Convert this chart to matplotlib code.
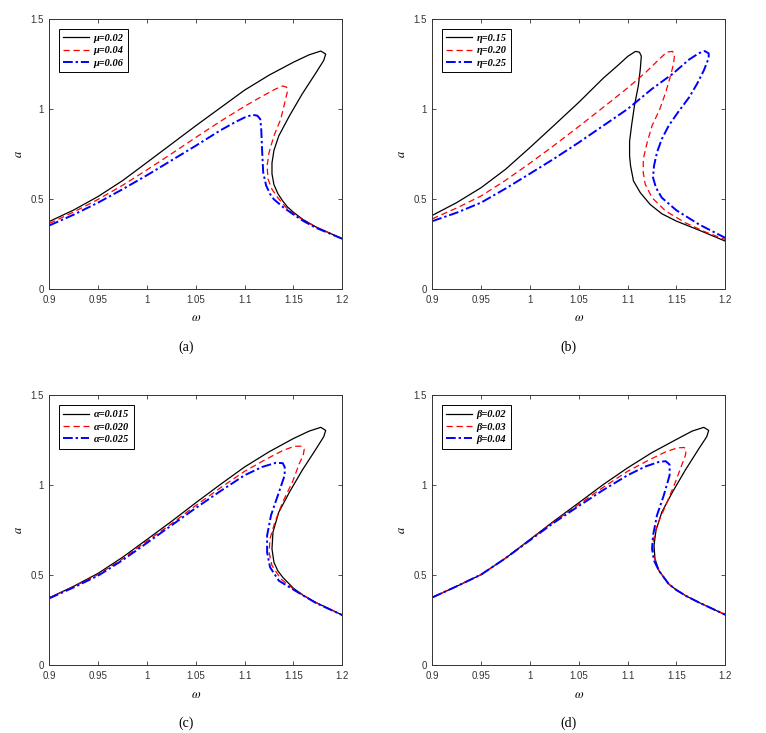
import matplotlib
matplotlib.use("Agg")
import matplotlib.pyplot as plt

# ---- data: (omega, a) points along each response curve ----
# (a) damping mu
w_mu02 = [0.9, 0.925, 0.950, 0.975, 1.000, 1.025, 1.050, 1.075, 1.100, 1.125, 1.150, 1.166, 1.178, 1.183, 1.181,
          1.173, 1.159, 1.146, 1.135, 1.130, 1.128, 1.128, 1.130, 1.134, 1.139, 1.144, 1.150, 1.160, 1.173, 1.200]
a_mu02 = [0.375, 0.439, 0.514, 0.602, 0.703, 0.805, 0.907, 1.006, 1.105, 1.188, 1.260, 1.301, 1.322, 1.305, 1.270,
          1.201, 1.084, 0.963, 0.851, 0.770, 0.700, 0.640, 0.580, 0.530, 0.489, 0.455, 0.426, 0.385, 0.345, 0.279]
w_mu04 = [0.9, 0.925, 0.950, 0.975, 1.000, 1.025, 1.050, 1.075, 1.100, 1.118, 1.132, 1.139, 1.143, 1.144, 1.142,
          1.137, 1.130, 1.125, 1.123, 1.124, 1.128, 1.134, 1.142, 1.150, 1.160, 1.173, 1.200]
a_mu04 = [0.364, 0.428, 0.498, 0.576, 0.662, 0.751, 0.842, 0.931, 1.015, 1.071, 1.112, 1.128, 1.121, 1.102, 1.056,
          0.944, 0.851, 0.758, 0.684, 0.610, 0.554, 0.507, 0.455, 0.418, 0.383, 0.344, 0.279]
w_mu06 = [0.9, 0.925, 0.950, 0.975, 1.000, 1.025, 1.050, 1.075, 1.091, 1.100, 1.108, 1.113, 1.116, 1.117, 1.118,
          1.119, 1.122, 1.126, 1.130, 1.140, 1.150, 1.160, 1.173, 1.200]
a_mu06 = [0.353, 0.413, 0.480, 0.554, 0.632, 0.714, 0.796, 0.881, 0.929, 0.953, 0.968, 0.963, 0.944, 0.888, 0.758,
          0.647, 0.575, 0.528, 0.498, 0.452, 0.414, 0.378, 0.340, 0.279]

# (b) eta
w_eta15 = [0.9, 0.925, 0.950, 0.975, 1.000, 1.025, 1.050, 1.075, 1.091, 1.100, 1.108, 1.112, 1.114, 1.113, 1.111,
           1.107, 1.104, 1.102, 1.102, 1.103, 1.106, 1.113, 1.123, 1.135, 1.150, 1.173, 1.200]
a_eta15 = [0.409, 0.480, 0.563, 0.665, 0.786, 0.911, 1.037, 1.171, 1.247, 1.292, 1.320, 1.316, 1.294, 1.223, 1.130,
           1.019, 0.907, 0.820, 0.740, 0.684, 0.600, 0.535, 0.470, 0.418, 0.377, 0.327, 0.266]
w_eta20 = [0.9, 0.925, 0.950, 0.975, 1.000, 1.025, 1.050, 1.075, 1.100, 1.118, 1.132, 1.140, 1.146, 1.148, 1.147,
           1.144, 1.139, 1.133, 1.125, 1.120, 1.116, 1.116, 1.118, 1.125, 1.139, 1.159, 1.180, 1.200]
a_eta20 = [0.390, 0.450, 0.517, 0.604, 0.699, 0.799, 0.903, 1.009, 1.117, 1.201, 1.275, 1.316, 1.320, 1.301, 1.251,
           1.186, 1.093, 1.000, 0.907, 0.814, 0.721, 0.647, 0.582, 0.507, 0.433, 0.368, 0.316, 0.275]
w_eta25 = [0.9, 0.925, 0.950, 0.975, 1.000, 1.025, 1.050, 1.075, 1.100, 1.125, 1.146, 1.163, 1.173, 1.179, 1.183,
           1.183, 1.178, 1.171, 1.163, 1.152, 1.142, 1.135, 1.130, 1.127, 1.126, 1.129, 1.135, 1.150, 1.173, 1.200]
a_eta25 = [0.377, 0.424, 0.480, 0.558, 0.641, 0.725, 0.814, 0.907, 1.000, 1.112, 1.195, 1.275, 1.310, 1.322, 1.309,
           1.283, 1.214, 1.139, 1.065, 0.985, 0.907, 0.833, 0.758, 0.684, 0.619, 0.563, 0.507, 0.437, 0.359, 0.284]

# (c) alpha
w_al015 = [0.9, 0.925, 0.950, 0.975, 1.000, 1.025, 1.050, 1.075, 1.100, 1.125, 1.150, 1.166, 1.178, 1.183, 1.181,
           1.173, 1.159, 1.146, 1.135, 1.129, 1.128, 1.130, 1.134, 1.139, 1.150, 1.160, 1.173, 1.200]
a_al015 = [0.375, 0.439, 0.511, 0.600, 0.699, 0.799, 0.903, 1.004, 1.102, 1.186, 1.260, 1.301, 1.322, 1.305, 1.270,
           1.201, 1.084, 0.963, 0.851, 0.740, 0.647, 0.572, 0.525, 0.489, 0.428, 0.388, 0.349, 0.279]
w_al020 = [0.9, 0.925, 0.950, 0.975, 1.000, 1.025, 1.050, 1.075, 1.100, 1.122, 1.139, 1.151, 1.158, 1.161, 1.160,
           1.156, 1.149, 1.139, 1.131, 1.126, 1.125, 1.128, 1.137, 1.150, 1.173, 1.200]
a_al020 = [0.375, 0.437, 0.504, 0.591, 0.690, 0.786, 0.888, 0.985, 1.078, 1.145, 1.193, 1.217, 1.217, 1.201, 1.167,
           1.121, 1.019, 0.907, 0.796, 0.703, 0.628, 0.554, 0.480, 0.424, 0.348, 0.279]
w_al025 = [0.9, 0.925, 0.950, 0.975, 1.000, 1.025, 1.050, 1.075, 1.100, 1.118, 1.132, 1.139, 1.141, 1.141, 1.134,
           1.127, 1.123, 1.123, 1.126, 1.135, 1.150, 1.173, 1.200]
a_al025 = [0.372, 0.433, 0.498, 0.584, 0.680, 0.777, 0.874, 0.967, 1.056, 1.102, 1.125, 1.123, 1.102, 1.056, 0.944,
           0.833, 0.721, 0.628, 0.545, 0.470, 0.420, 0.346, 0.279]

# (d) beta
w_b02 = [0.9, 0.925, 0.950, 0.975, 1.000, 1.025, 1.050, 1.075, 1.100, 1.125, 1.150, 1.166, 1.178, 1.183, 1.181,
         1.173, 1.159, 1.146, 1.135, 1.129, 1.127, 1.128, 1.132, 1.142, 1.150, 1.160, 1.173, 1.200]
a_b02 = [0.377, 0.439, 0.504, 0.595, 0.699, 0.803, 0.903, 1.004, 1.097, 1.182, 1.255, 1.301, 1.322, 1.305, 1.270,
         1.204, 1.084, 0.963, 0.851, 0.749, 0.665, 0.591, 0.526, 0.452, 0.418, 0.385, 0.349, 0.281]
w_b03 = [0.9, 0.925, 0.950, 0.975, 1.000, 1.025, 1.050, 1.075, 1.100, 1.122, 1.139, 1.151, 1.158, 1.160, 1.159,
         1.156, 1.149, 1.139, 1.130, 1.126, 1.126, 1.128, 1.132, 1.142, 1.150, 1.160, 1.173, 1.200]
a_b03 = [0.377, 0.439, 0.504, 0.595, 0.697, 0.799, 0.894, 0.989, 1.078, 1.141, 1.186, 1.208, 1.210, 1.195, 1.164,
         1.121, 1.019, 0.888, 0.777, 0.684, 0.619, 0.591, 0.526, 0.452, 0.418, 0.385, 0.349, 0.281]
w_b04 = [0.9, 0.925, 0.950, 0.975, 1.000, 1.025, 1.050, 1.075, 1.100, 1.118, 1.132, 1.139, 1.143, 1.143, 1.137,
         1.130, 1.126, 1.125, 1.127, 1.132, 1.142, 1.150, 1.160, 1.173, 1.200]
a_b04 = [0.377, 0.439, 0.504, 0.595, 0.695, 0.794, 0.885, 0.974, 1.056, 1.104, 1.130, 1.134, 1.115, 1.056, 0.944,
         0.833, 0.721, 0.647, 0.582, 0.526, 0.452, 0.418, 0.385, 0.349, 0.281]

panels = [
    ("(a)", [(w_mu02, a_mu02, "μ=0.02"), (w_mu04, a_mu04, "μ=0.04"), (w_mu06, a_mu06, "μ=0.06")]),
    ("(b)", [(w_eta15, a_eta15, "η=0.15"), (w_eta20, a_eta20, "η=0.20"), (w_eta25, a_eta25, "η=0.25")]),
    ("(c)", [(w_al015, a_al015, "α=0.015"), (w_al020, a_al020, "α=0.020"), (w_al025, a_al025, "α=0.025")]),
    ("(d)", [(w_b02, a_b02, "β=0.02"), (w_b03, a_b03, "β=0.03"), (w_b04, a_b04, "β=0.04")]),
]

xticks = [0.9, 0.95, 1.0, 1.05, 1.1, 1.15, 1.2]
xticklabels = ["0.9", "0.95", "1", "1.05", "1.1", "1.15", "1.2"]
yticks = [0, 0.5, 1, 1.5]
yticklabels = ["0", "0.5", "1", "1.5"]

styles = [dict(color="black", ls="-", lw=0.9),
          dict(color="red", ls=(0, (5, 3)), lw=0.9),
          dict(color="blue", ls=(0, (5, 1.5, 1.2, 1.5)), lw=1.4)]

plt.rcParams["mathtext.fontset"] = "stix"

fig = plt.figure(figsize=(7.66, 7.33), dpi=100)
W, H = 766, 733
lefts = [49.3, 432.3]
tops = [19, 395.3]
aw, ah = 293, 270

for k, (tag, curves) in enumerate(panels):
    col, row = k % 2, k // 2
    x0, y0 = lefts[col], tops[row]
    ax = fig.add_axes([x0 / W, 1 - (y0 + ah) / H, aw / W, ah / H])
    for (w, a, lab), st in zip(curves, styles):
        ax.plot(w, a, label=lab, **st)
    ax.set_xlim(0.9, 1.2)
    ax.set_ylim(0, 1.5)
    ax.set_xticks(xticks)
    ax.set_xticklabels(xticklabels, fontfamily="Liberation Sans", fontsize=7)
    ax.set_yticks(yticks)
    ax.set_yticklabels(yticklabels, fontfamily="Liberation Sans", fontsize=7)
    ax.tick_params(direction="in", top=True, right=True, length=3, width=0.6, pad=4, colors="#333333")
    for sp in ax.spines.values():
        sp.set_linewidth(0.7)
        sp.set_color("#333333")
    ax.set_xlabel(r"$\omega$", fontsize=9, labelpad=5)
    ax.set_ylabel(r"$a$", fontsize=9, labelpad=4)
    leg = ax.legend(loc="upper left", bbox_to_anchor=(9.4 / aw, 1 - 10 / ah), borderaxespad=0,
                    fancybox=False, framealpha=1, edgecolor="black", handlelength=2.5,
                    handletextpad=0.4, labelspacing=0.3, borderpad=0.45,
                    prop=dict(family="Liberation Serif", style="italic", weight="bold", size=7.5))
    leg.get_frame().set_linewidth(0.7)
    fig.text((x0 + aw / 2 - 10) / W, 1 - (y0 + ah + 58) / H, tag, ha="center", va="center",
             fontfamily="Liberation Serif", fontsize=10)

fig.savefig("out.png", dpi=100)
